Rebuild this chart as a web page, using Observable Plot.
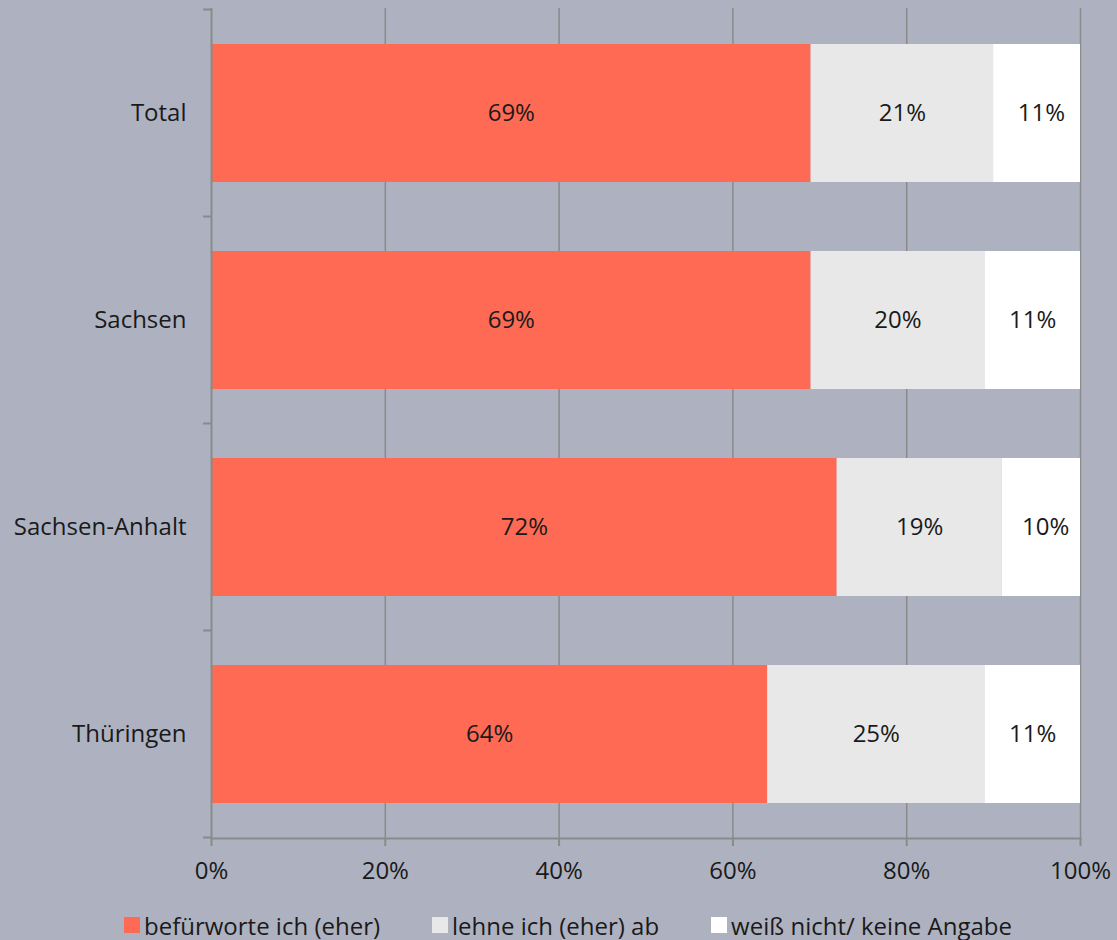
<!DOCTYPE html>
<html><head><meta charset="utf-8">
<script src="https://cdn.jsdelivr.net/npm/d3@7"></script>
<script src="https://cdn.jsdelivr.net/npm/@observablehq/plot@0.6"></script>
<style>
html,body{margin:0;padding:0;background:#aeb2c0;}
#chart{width:1117px;font-family:"Open Sans",sans-serif;}
#chart svg{display:block;}
.legend{display:flex;align-items:center;height:30px;padding-left:124px;font-size:24px;color:#1a1a1a;font-family:"Open Sans",sans-serif;}
.legend .item{display:flex;align-items:center;margin-right:52px;}
.legend .sw{width:16px;height:16px;margin-right:4px;}
</style></head><body><div id="chart"></div>
<script>
const regions = ["Total", "Sachsen", "Sachsen-Anhalt", "Thüringen"];
const answers = ["befürworte ich (eher)", "lehne ich (eher) ab", "weiß nicht/ keine Angabe"];
const approve = [69, 69, 72, 64];
const reject = [21, 20, 19, 25];
const unknown = [11, 11, 10, 11];
const xTicks = [0, 20, 40, 60, 80, 100];
const colors = ["#ff6a55", "#e8e8e8", "#ffffff"];

const series = [approve, reject, unknown];
const rows = regions.flatMap((r, i) => series.map((s, j) => ({region: r, answer: answers[j], value: s[i]})));

function boundaryTicks(index, scales, values, dims) {
  const y = scales.y;
  const step = y.step(), bw = y.bandwidth();
  const ys = regions.map(r => y(r) + bw / 2 - step / 2);
  ys.push(y(regions[regions.length - 1]) + bw / 2 + step / 2);
  const g = d3.create("svg:g");
  g.selectAll("line").data(ys).join("line")
    .attr("x1", dims.marginLeft - 8).attr("x2", dims.marginLeft)
    .attr("y1", d => d).attr("y2", d => d)
    .attr("stroke", "#8a8a8a").attr("stroke-width", 2);
  return g.node();
}

const plot = Plot.plot({
  width: 1117,
  height: 910,
  marginLeft: 211,
  marginRight: 37,
  marginTop: 8,
  marginBottom: 72,
  style: {background: "transparent", fontFamily: "'Open Sans', sans-serif", fontSize: "24px", color: "#1a1a1a"},
  x: {domain: [0, 100], ticks: xTicks, tickFormat: d => d + "%", label: null},
  y: {domain: regions, paddingInner: 0.335, paddingOuter: 0.1675, label: null},
  color: {domain: answers, range: colors},
  marks: [
    Plot.gridX(xTicks.slice(1), {stroke: "#8a8a8a", strokeOpacity: 1, strokeWidth: 1.5}),
    Plot.barX(rows, Plot.stackX({x: "value", y: "region", fill: "answer", clip: true, order: answers})),
    Plot.text(rows, Plot.stackX({x: "value", y: "region", z: "answer", order: answers, text: d => d.value + "%", fontSize: 24, fill: "#1a1a1a", letterSpacing: 1})),
    Plot.ruleX([0], {stroke: "#8a8a8a", strokeWidth: 2}),
    Plot.frame({anchor: "bottom", stroke: "#8a8a8a", strokeWidth: 2}),
    Plot.axisX({ticks: xTicks, tickSize: 8, tickPadding: 15, stroke: "#8a8a8a", strokeWidth: 2, fontSize: 24, fill: "#1a1a1a", letterSpacing: 1, tickFormat: d => d + "%", label: null}),
    Plot.axisY({tickSize: 0, tickPadding: 25, fontSize: 24, fill: "#1a1a1a", label: null}),
    boundaryTicks
  ]
});

const chart = document.getElementById("chart");
chart.appendChild(plot);
const legend = document.createElement("div");
legend.className = "legend";
answers.forEach((a, i) => {
  const item = document.createElement("div");
  item.className = "item";
  const sw = document.createElement("span");
  sw.className = "sw";
  sw.style.background = colors[i];
  const t = document.createElement("span");
  t.textContent = a;
  item.appendChild(sw); item.appendChild(t);
  legend.appendChild(item);
});
chart.appendChild(legend);
</script></body></html>
